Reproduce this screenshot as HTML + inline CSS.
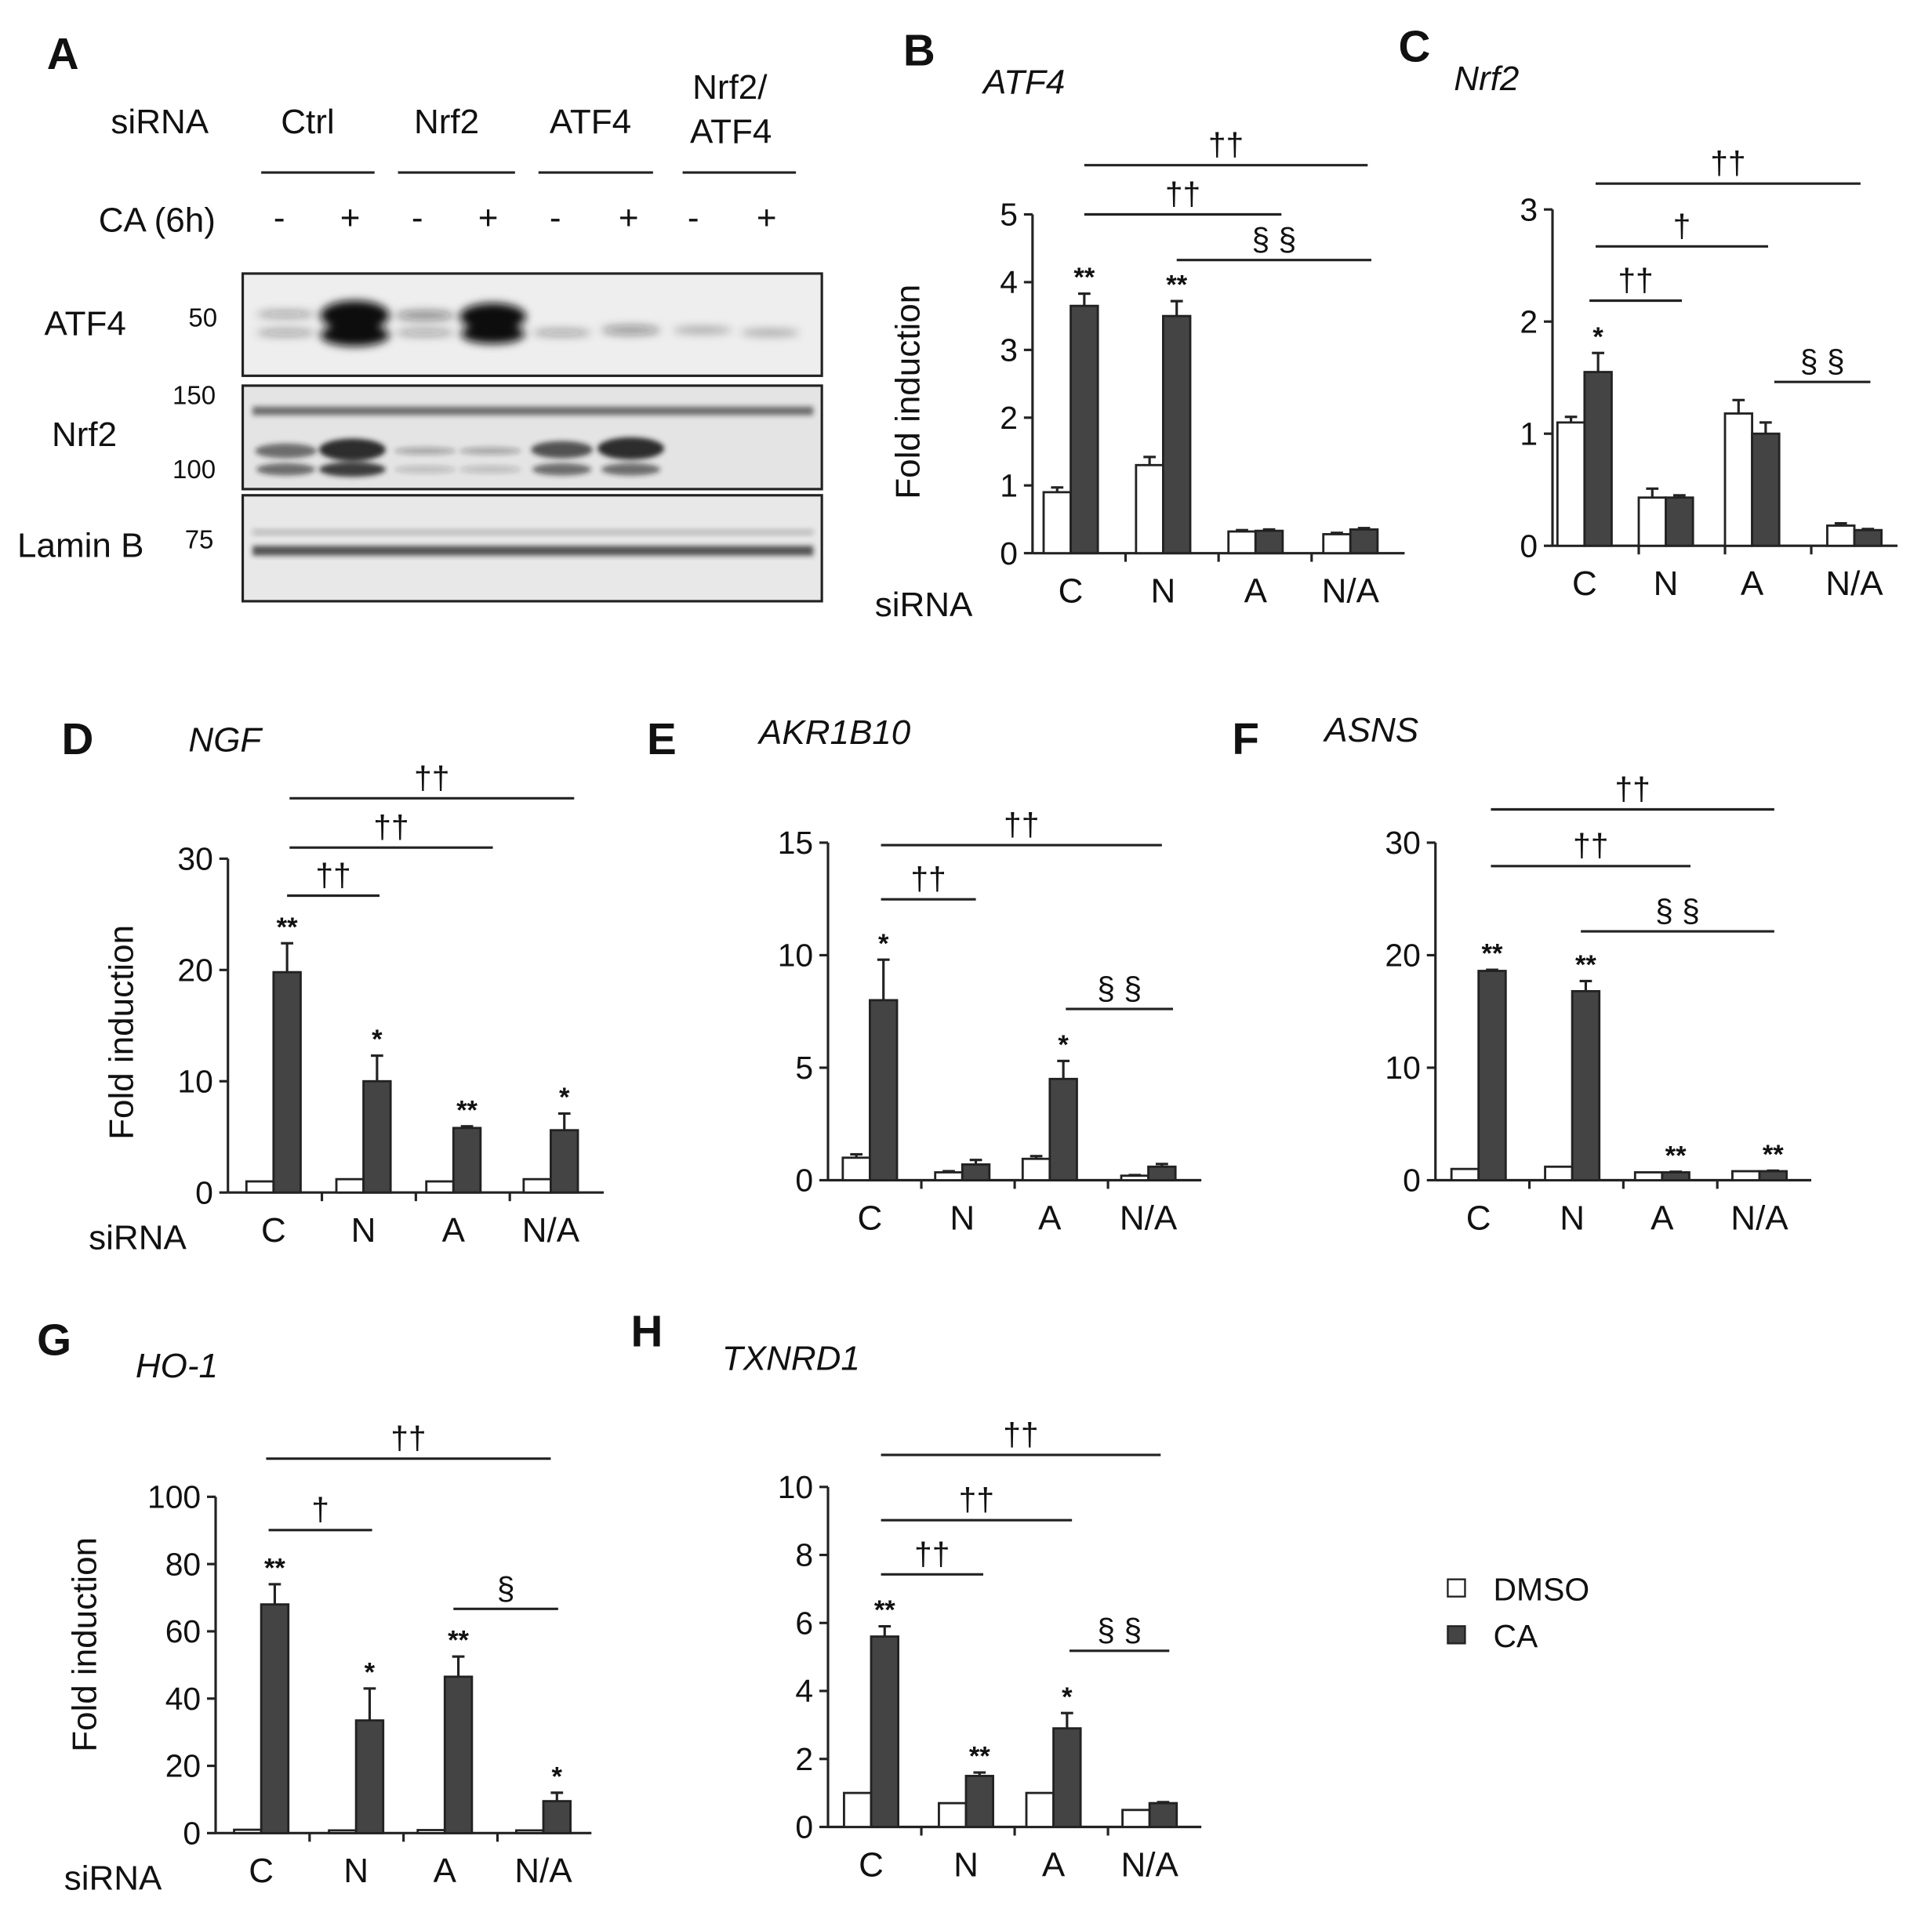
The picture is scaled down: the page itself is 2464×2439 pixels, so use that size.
<!DOCTYPE html>
<html><head><meta charset="utf-8"><style>html,body{margin:0;padding:0;background:#fff}svg{display:block}text{font-family:"Liberation Sans",Arial,sans-serif;fill:#111}</style></head>
<body>
<svg width="2464" height="2439" viewBox="0 0 1568 1552" xmlns="http://www.w3.org/2000/svg">
<defs>
<filter id="bl" x="-50%" y="-50%" width="200%" height="200%"><feGaussianBlur stdDeviation="3.5"/></filter>
<filter id="bl2" x="-50%" y="-50%" width="200%" height="200%"><feGaussianBlur stdDeviation="2"/></filter>
</defs>
<g font-weight="bold" font-size="36">
<text x="38" y="56">A</text><text x="733" y="53">B</text><text x="1135" y="50">C</text>
<text x="50" y="612">D</text><text x="525" y="612">E</text><text x="1000" y="612">F</text>
<text x="30" y="1100">G</text><text x="512" y="1093">H</text>
</g>
<g font-size="28">
<text x="90" y="108">siRNA</text><text x="228" y="108">Ctrl</text><text x="336" y="108">Nrf2</text><text x="446" y="108">ATF4</text>
<text x="562" y="80">Nrf2/</text><text x="560" y="116">ATF4</text>
<text x="80" y="188">CA (6h)</text>
<text x="36" y="272">ATF4</text><text x="42" y="362">Nrf2</text><text x="14" y="452">Lamin B</text>
</g>
<g stroke="#222" stroke-width="2"><line x1="212" y1="140" x2="304" y2="140"/><line x1="323" y1="140" x2="418" y2="140"/><line x1="437" y1="140" x2="530" y2="140"/><line x1="554" y1="140" x2="646" y2="140"/></g>
<g font-size="28"><text x="222" y="186">-</text><text x="276" y="186">+</text><text x="334" y="186">-</text><text x="388" y="186">+</text><text x="446" y="186">-</text><text x="502" y="186">+</text><text x="558" y="186">-</text><text x="614" y="186">+</text></g>
<g font-size="21"><text x="153" y="265">50</text><text x="140" y="328">150</text><text x="140" y="388">100</text><text x="150" y="445">75</text></g>
<rect x="197" y="222" width="470" height="83" fill="#eeeeee" stroke="#222" stroke-width="2"/>
<rect x="197" y="313" width="470" height="84" fill="#e4e4e4" stroke="#222" stroke-width="2"/>
<rect x="197" y="402" width="470" height="86" fill="#e8e8e8" stroke="#222" stroke-width="2"/>
<g filter="url(#bl)" fill="#111">
<ellipse cx="288" cy="256" rx="28" ry="12"/><ellipse cx="288" cy="272" rx="28" ry="9"/>
<ellipse cx="400" cy="257" rx="27" ry="11"/><ellipse cx="400" cy="271" rx="26" ry="8"/>
<ellipse cx="232" cy="255" rx="24" ry="3" opacity=".35"/><ellipse cx="232" cy="270" rx="24" ry="3" opacity=".35"/>
<ellipse cx="345" cy="256" rx="24" ry="4" opacity=".45"/><ellipse cx="345" cy="270" rx="24" ry="3" opacity=".35"/>
<ellipse cx="456" cy="270" rx="24" ry="3" opacity=".35"/><ellipse cx="512" cy="268" rx="24" ry="4" opacity=".4"/>
<ellipse cx="570" cy="268" rx="24" ry="3" opacity=".3"/><ellipse cx="625" cy="270" rx="24" ry="3" opacity=".3"/>
</g>
<g filter="url(#bl2)" fill="#222">
<rect x="205" y="330" width="455" height="7" opacity=".6"/>
<ellipse cx="232" cy="366" rx="25" ry="6" opacity=".6"/><ellipse cx="286" cy="365" rx="27" ry="9" opacity=".95"/>
<ellipse cx="456" cy="365" rx="25" ry="7" opacity=".75"/><ellipse cx="512" cy="364" rx="27" ry="9" opacity=".95"/>
<ellipse cx="232" cy="381" rx="24" ry="5" opacity=".6"/><ellipse cx="286" cy="381" rx="27" ry="6" opacity=".85"/>
<ellipse cx="456" cy="381" rx="24" ry="5" opacity=".6"/><ellipse cx="512" cy="381" rx="24" ry="5" opacity=".6"/>
<ellipse cx="345" cy="366" rx="25" ry="3" opacity=".3"/><ellipse cx="398" cy="366" rx="25" ry="3" opacity=".3"/>
<ellipse cx="345" cy="381" rx="25" ry="3" opacity=".2"/><ellipse cx="398" cy="381" rx="25" ry="3" opacity=".2"/>
<rect x="205" y="443" width="455" height="8" opacity=".75"/>
<rect x="205" y="430" width="455" height="4" opacity=".25"/>
</g>
<rect x="1175" y="1282" width="14" height="14" fill="#fff" stroke="#222" stroke-width="1.5"/>
<rect x="1175" y="1320" width="14" height="14" fill="#444" stroke="#222" stroke-width="1.5"/>
<text x="1212" y="1299" font-size="26">DMSO</text><text x="1212" y="1337" font-size="26">CA</text>
<g id="out"></g>
</svg>
<script>
const NS="http://www.w3.org/2000/svg",out=document.getElementById('out');
function el(t,a,txt){const e=document.createElementNS(NS,t);for(const k in a)e.setAttribute(k,a[k]);if(txt!==undefined)e.textContent=txt;out.appendChild(e);return e;}
function panel(p){
 const {ax,y0,ytop,max,step,x1,groups,vals,errs,title,tx,ty,ylab,siRNA,sig,stars}=p;
 const s=(y0-ytop)/max;
 el('text',{x:tx,y:ty,'font-size':28,'font-style':'italic'},title);
 el('line',{x1:ax,y1:ytop,x2:ax,y2:y0,stroke:'#222','stroke-width':2});
 el('line',{x1:ax,y1:y0,x2:x1,y2:y0,stroke:'#222','stroke-width':2});
 for(let v=0;v<=max+1e-9;v+=step){const y=y0-v*s;el('line',{x1:ax-7,y1:y,x2:ax,y2:y,stroke:'#222','stroke-width':2});el('text',{x:ax-12,y:y+9,'font-size':26,'text-anchor':'end'},String(v));}
 const n=groups.length,gw=(x1-ax)/n;
 for(let i=1;i<n;i++){const x=ax+gw*i;el('line',{x1:x,y1:y0,x2:x,y2:y0+7,stroke:'#222','stroke-width':2});}
 const lab=['C','N','A','N/A'];
 groups.forEach((c,i)=>{
  el('text',{x:c,y:y0+40,'font-size':28,'text-anchor':'middle'},lab[i]);
  [0,1].forEach(j=>{const v=vals[i][j],x=j?c:c-22,h=v*s,e=errs[i][j]*s;
   if(e>0){el('line',{x1:x+11,y1:y0-h-e,x2:x+11,y2:y0-h,stroke:'#222','stroke-width':2});el('line',{x1:x+6,y1:y0-h-e,x2:x+16,y2:y0-h-e,stroke:'#222','stroke-width':2});}
   el('rect',{x:x,y:y0-h,width:22,height:h,fill:j?'#444':'#fff',stroke:'#222','stroke-width':1.8});
   if(j&&stars[i])el('text',{x:c+11,y:y0-h-e-6,'font-size':22,'font-weight':'bold','text-anchor':'middle'},stars[i]);
  });
 });
 if(ylab)el('text',{x:0,y:0,'font-size':28,transform:`translate(${ylab[0]},${ylab[1]}) rotate(-90)`,'text-anchor':'middle'},'Fold induction');
 if(siRNA)el('text',{x:siRNA[0],y:siRNA[1],'font-size':28},'siRNA');
 sig.forEach(g=>{el('line',{x1:g[0],y1:g[2],x2:g[1],y2:g[2],stroke:'#222','stroke-width':2});el('text',{x:(g[0]+g[1])/2,y:g[2]-8,'font-size':26,'text-anchor':'middle'},g[3]);});
}
panel({ax:838,y0:449,ytop:174,max:5,step:1,x1:1140,groups:[869,944,1019,1096],vals:[[.9,3.65],[1.3,3.5],[.32,.33],[.28,.35]],errs:[[.07,.18],[.12,.22],[.02,.02],[.02,.02]],title:'ATF4',tx:798,ty:76,ylab:[746,318],siRNA:[710,500],stars:['**','**','',''],
 sig:[[880,1110,134,'††'],[880,1040,174,'††'],[955,1113,211,'§ §']]});
panel({ax:1260,y0:443,ytop:170,max:3,step:1,x1:1540,groups:[1286,1352,1422,1505],vals:[[1.1,1.55],[.43,.43],[1.18,1.0],[.18,.14]],errs:[[.05,.17],[.08,.02],[.12,.1],[.02,.01]],title:'Nrf2',tx:1180,ty:73,siRNA:null,stars:['*','','',''],
 sig:[[1295,1510,149,'††'],[1295,1435,200,'†'],[1290,1365,244,'††'],[1440,1518,310,'§ §']]});
panel({ax:185,y0:968,ytop:697,max:30,step:10,x1:490,groups:[222,295,368,447],vals:[[1,19.8],[1.2,10],[1,5.8],[1.2,5.6]],errs:[[0,2.6],[0,2.3],[0,.15],[0,1.5]],title:'NGF',tx:153,ty:610,ylab:[108,838],siRNA:[72,1014],stars:['**','*','**','*'],
 sig:[[235,466,648,'††'],[235,400,688,'††'],[233,308,727,'††']]});
panel({ax:672,y0:958,ytop:684,max:15,step:5,x1:975,groups:[706,781,852,932],vals:[[1,8],[.35,.7],[.95,4.5],[.2,.6]],errs:[[.15,1.8],[.05,.2],[.12,.8],[.03,.12]],title:'AKR1B10',tx:616,ty:604,siRNA:null,stars:['*','','*',''],
 sig:[[715,943,686,'††'],[715,792,730,'††'],[865,952,819,'§ §']]});
panel({ax:1165,y0:958,ytop:684,max:30,step:10,x1:1470,groups:[1200,1276,1349,1428],vals:[[1,18.6],[1.2,16.8],[.7,.7],[.8,.8]],errs:[[0,.1],[0,.9],[0,.05],[0,.05]],title:'ASNS',tx:1075,ty:602,siRNA:null,stars:['**','**','**','**'],
 sig:[[1210,1440,657,'††'],[1210,1372,703,'††'],[1283,1440,756,'§ §']]});
panel({ax:175,y0:1488,ytop:1215,max:100,step:20,x1:480,groups:[212,289,361,441],vals:[[1,68],[.8,33.5],[.9,46.5],[.8,9.5]],errs:[[0,6],[0,9.5],[0,6],[0,2.5]],title:'HO-1',tx:110,ty:1118,ylab:[78,1335],siRNA:[52,1534],stars:['**','*','**','*'],
 sig:[[216,447,1184,'††'],[218,302,1242,'†'],[368,453,1306,'§']]});
panel({ax:672,y0:1483,ytop:1207,max:10,step:2,x1:975,groups:[707,784,855,933],vals:[[1,5.6],[.7,1.5],[1,2.9],[.5,.7]],errs:[[0,.3],[0,.1],[0,.45],[0,.03]],title:'TXNRD1',tx:586,ty:1112,siRNA:null,stars:['**','**','*',''],
 sig:[[715,942,1181,'††'],[715,870,1234,'††'],[715,798,1278,'††'],[868,949,1340,'§ §']]});
</script>
</body></html>
